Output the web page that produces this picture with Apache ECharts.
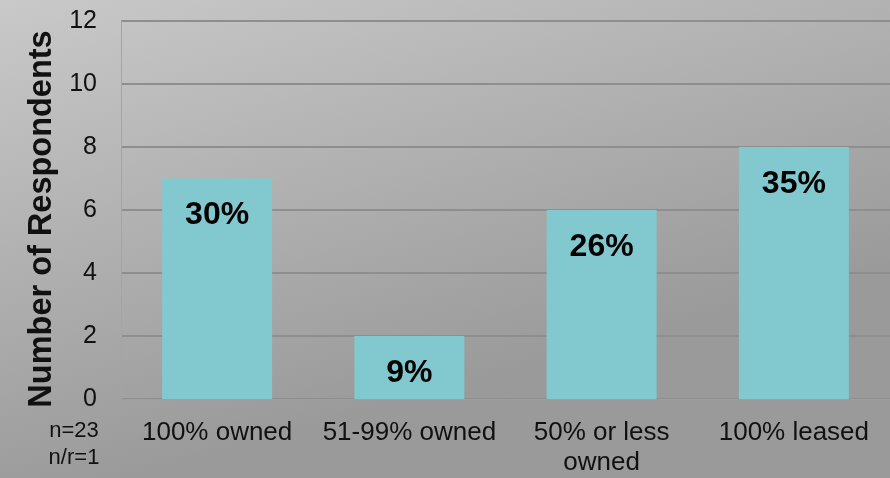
<!DOCTYPE html>
<html>
<head>
<meta charset="utf-8">
<script src="https://cdn.jsdelivr.net/npm/echarts@6/dist/echarts.min.js"></script>
<style>
  html, body { margin: 0; padding: 0; }
  #chart { width: 890px; height: 478px; }
</style>
</head>
<body>
<div id="chart"></div>
<script>
// Ownership categories and respondent counts
const categories = ['100% owned', '51-99% owned', '50% or less\nowned', '100% leased'];
const respondents = [7, 2, 6, 8];
const shareLabels = ['30%', '9%', '26%', '35%'];
const yTicks = [0, 2, 4, 6, 8, 10, 12];
const yAxisTitle = 'Number of Respondents';
const sampleNote = ['n=23', 'n/r=1'];

const FONT = '"Liberation Sans", Arial, Helvetica, sans-serif';

const chart = echarts.init(document.getElementById('chart'));

chart.setOption({
  animation: false,
  backgroundColor: {
    type: 'linear', x: 0, y: 0, x2: 0.15, y2: 1,
    colorStops: [
      { offset: 0, color: '#c8c9c8' },
      { offset: 1, color: '#9a9a9a' }
    ]
  },
  grid: { left: 121, right: 0, top: 21, bottom: 79 },
  graphic: [
    {
      // rotated value-axis title
      type: 'text',
      x: 42, y: 219,
      rotation: Math.PI / 2,
      style: {
        text: yAxisTitle,
        fontSize: 32.5,
        fontWeight: 'bold',
        fontFamily: FONT,
        fill: '#111',
        align: 'center',
        verticalAlign: 'middle'
      }
    },
    {
      // sample size note under the value axis
      type: 'text',
      x: 74, y: 417,
      style: {
        text: sampleNote.join('\n'),
        fontSize: 22,
        fontFamily: FONT,
        fill: '#111',
        lineHeight: 27,
        align: 'center'
      }
    }
  ],
  xAxis: {
    type: 'category',
    data: categories,
    axisLine: { lineStyle: { color: '#9e9e9e', width: 1 } },
    axisTick: { show: false },
    axisLabel: {
      interval: 0,
      color: '#111',
      fontSize: 26,
      fontFamily: FONT,
      margin: 19,
      lineHeight: 30
    }
  },
  yAxis: {
    type: 'value',
    min: yTicks[0],
    max: yTicks[yTicks.length - 1],
    interval: 2,
    axisLine: { show: true, lineStyle: { color: '#a4a4a4', width: 1 } },
    axisTick: { show: false },
    axisLabel: {
      color: '#111',
      fontSize: 25,
      fontFamily: FONT,
      margin: 24
    },
    splitLine: { lineStyle: { color: '#8e8e8e', width: 2 } }
  },
  series: [{
    type: 'bar',
    data: respondents,
    barWidth: 110,
    itemStyle: { color: '#82c9cf' },
    label: {
      show: true,
      position: 'insideTop',
      distance: 21,
      formatter: p => shareLabels[p.dataIndex],
      color: '#000',
      fontSize: 32,
      fontWeight: 'bold',
      fontFamily: FONT
    }
  }]
});
</script>
</body>
</html>
